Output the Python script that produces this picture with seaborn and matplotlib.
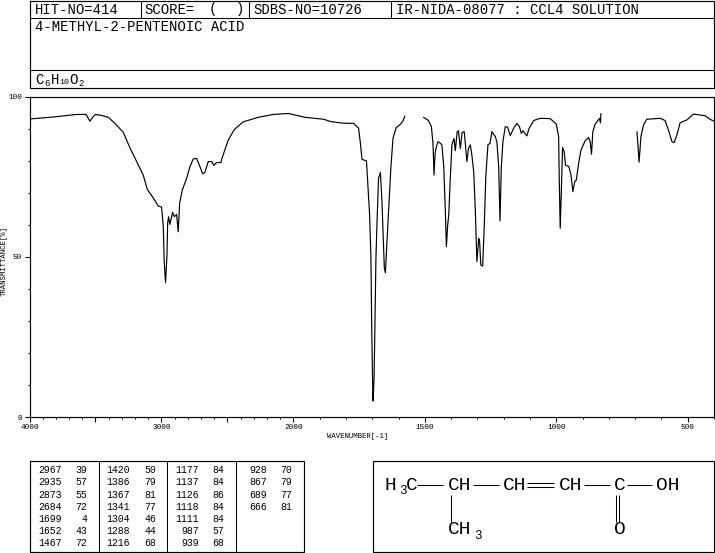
import numpy as np
import pandas as pd
import matplotlib
matplotlib.use('Agg')
import matplotlib.pyplot as plt
from matplotlib.patches import Rectangle
import seaborn as sns

seg1_wn = [3996, 3820, 3643, 3572, 3557, 3542, 3521, 3501, 3453, 3403, 3352, 3289, 3239, 3188, 3138, 3107,
           3062, 3024, 2999, 2986, 2979, 2969, 2958, 2953, 2946, 2936, 2915, 2903, 2885, 2873, 2862, 2842,
           2809, 2784, 2759, 2734, 2708, 2688, 2671, 2645, 2620, 2602, 2582, 2549, 2544, 2494, 2448, 2380,
           2266, 2153, 2039, 1955, 1885, 1859, 1815, 1771, 1752, 1745, 1739, 1722, 1717, 1710, 1705,
           1702, 1698, 1697, 1693, 1690, 1686, 1681, 1676, 1669, 1663, 1659, 1654, 1650, 1644, 1636, 1629,
           1621, 1609, 1593, 1583, 1576]
seg1_t = [93.0, 93.6, 94.4, 94.4, 93.4, 92.3, 93.5, 94.4, 94.1, 93.5, 91.6, 88.8, 84.0, 79.7, 75.5, 71.0,
          68.4, 65.8, 65.5, 59.4, 48.5, 41.9, 50.5, 60.4, 62.5, 60.1, 63.9, 62.5, 63.2, 57.8, 66.7, 70.8,
          74.5, 78.1, 80.5, 80.7, 78.1, 75.9, 76.3, 79.7, 79.7, 78.5, 79.4, 79.4, 80.4, 86.4, 89.7, 92.1,
          93.5, 94.4, 94.7, 93.5, 92.9, 92.2, 91.7, 91.6, 90.1, 85.4, 80.4, 79.9, 72.9, 63.0, 49.5,
          27.7, 7.9, 5.0, 12.1, 27.7, 49.5, 63.0, 74.5, 76.3, 67.2, 57.8, 46.4, 45.0, 54.7, 67.2, 78.1,
          87.0, 90.3, 91.3, 92.4, 93.9]

seg2_wn = [1505, 1486, 1475, 1469, 1465, 1461, 1456, 1450, 1441, 1435, 1428, 1422, 1418, 1413, 1409, 1404,
           1397, 1389, 1384, 1377, 1372, 1365, 1358, 1350, 1340, 1334, 1327, 1321, 1314, 1308, 1302, 1295,
           1292, 1287, 1280, 1274, 1268, 1260, 1252, 1245, 1232, 1226, 1219, 1214, 1209, 1203, 1194, 1185,
           1175, 1162, 1150, 1140, 1133, 1127, 1112, 1103, 1086, 1061, 1023, 1000, 991, 989, 985, 981,
           976, 970, 965, 952, 944, 937, 930, 924, 915, 906, 890, 877, 871, 866, 861, 852, 835, 832, 830]
seg2_t = [93.5, 92.5, 90.6, 85.4, 75.5, 82.3, 84.3, 85.9, 85.4, 84.9, 78.1, 64.6, 53.2, 59.9, 63.0, 72.9,
          84.9, 86.9, 83.1, 89.0, 89.3, 83.8, 88.8, 89.0, 79.7, 83.8, 84.9, 81.7, 76.5, 64.6, 48.5, 55.7,
          55.2, 47.4, 47.1, 59.4, 75.0, 84.9, 85.4, 89.0, 87.5, 85.9, 78.1, 61.2, 78.1, 85.9, 90.6, 90.4,
          87.8, 90.1, 91.6, 90.6, 88.5, 89.3, 87.7, 90.1, 92.5, 93.2, 93.1, 91.4, 87.5, 76.0, 58.9, 69.8,
          84.1, 82.8, 78.6, 78.1, 75.5, 70.3, 73.4, 73.9, 79.1, 83.3, 86.2, 87.2, 85.9, 82.0, 89.0, 91.4,
          93.2, 91.8, 94.7]

seg3_wn = [693, 688, 685, 678, 668, 656, 605, 586, 573, 560, 552, 541, 529, 503, 478, 459, 434, 415, 400]
seg3_t = [89.0, 83.3, 79.5, 87.5, 91.1, 92.9, 93.2, 92.5, 89.5, 85.9, 85.6, 88.0, 91.8, 92.7, 94.5, 94.3,
          94.0, 92.9, 92.3]

# peak table
peak_wn = [2967, 2935, 2873, 2684, 1699, 1652, 1467,
           1420, 1386, 1367, 1341, 1304, 1288, 1216,
           1177, 1137, 1126, 1118, 1111, 987, 939,
           928, 867, 689, 666]
peak_t = [39, 57, 55, 72, 4, 43, 72,
          50, 79, 81, 77, 46, 44, 68,
          84, 84, 86, 84, 84, 57, 68,
          70, 79, 77, 81]

x_major = [4000, 3500, 3000, 2500, 2000, 1500, 1000, 500]
x_labels = ['4000', '', '3000', '', '2000', '1500', '1000', '500']
y_major = [0, 50, 100]
y_labels = ['0', '50', '100']

W, H = 715, 553
sns.set_theme(style='ticks')
plt.rcParams['font.family'] = ['Liberation Mono', 'DejaVu Sans Mono']
fig = plt.figure(figsize=(W / 100, H / 100), dpi=100, facecolor='white')

# axis box in pixels
left, right, top, bottom = 29.5, 714.0, 96.5, 417.0
ax = fig.add_axes([left / W, 1 - bottom / H, (right - left) / W, (bottom - top) / H])

for wn, t in [(seg1_wn, seg1_t), (seg2_wn, seg2_t), (seg3_wn, seg3_t)]:
    df = pd.DataFrame({'wn': wn, 't': t})
    sns.lineplot(data=df, x='wn', y='t', ax=ax, sort=False, estimator=None, color='black', linewidth=0.85)


# the instrument changes scale at 2000 cm-1
def forward(v):
    return np.interp(v, [0, 400, 2000, 4000, 8000], [-263, 0, 420.8, 684.8, 1212.8])


def inverse(v):
    return np.interp(v, [-263, 0, 420.8, 684.8, 1212.8], [0, 400, 2000, 4000, 8000])


ax.set_xscale('function', functions=(forward, inverse))
ax.set_xlim(4000, 400)
ax.set_ylim(0, 100)
ax.set_xticks(x_major)
ax.set_xticklabels(x_labels)
ax.set_xticks(np.arange(400, 4000, 100), minor=True)
ax.set_yticks(y_major)
ax.set_yticklabels(y_labels)
ax.set_yticks(np.arange(0, 101, 10), minor=True)
ax.tick_params(axis='both', which='major', length=3.8, width=0.8, color='black', labelsize=5.6, pad=1.5, labelcolor='black')
ax.tick_params(axis='both', which='minor', length=1.6, width=0.8, color='black')
ax.set_xlabel('')
ax.set_ylabel('')
for s in ax.spines.values():
    s.set_visible(True)
    s.set_linewidth(0.85)
    s.set_color('black')

# everything around the plot is laid out in pixels on a full page overlay
pg = fig.add_axes([0, 0, 1, 1], zorder=5)
pg.set_xlim(0, W)
pg.set_ylim(H, 0)
pg.axis('off')
pg.patch.set_alpha(0)


def box(x0, y0, x1, y1):
    pg.add_patch(Rectangle((x0, y0), x1 - x0, y1 - y0, fill=False, ec='black', lw=0.85))


def line(xs, ys):
    pg.plot(xs, ys, color='black', lw=0.75, solid_capstyle='butt')


def txt(x, y, s, size=10, **kw):
    pg.text(x, y, s, fontsize=size, va='center', color='black', **kw)


pg.text(358, 437, 'WAVENUMBER[-1]', fontsize=5.2, ha='center', va='center', color='black')
pg.text(4.5, 261, 'TRANSMITTANCE[%]', fontsize=5.2, rotation=90, ha='center', va='center', color='black')

# header
box(29.5, 0.5, 714, 87.5)
line([29.5, 714], [17.5, 17.5])
line([29.5, 714], [69.5, 69.5])
line([140.5, 140.5], [0.5, 17.5])
line([248.5, 248.5], [0.5, 17.5])
line([390.5, 390.5], [0.5, 17.5])
txt(35, 9.5, 'HIT-NO=414')
txt(144, 9.5, 'SCORE=')
txt(209, 9.5, '(')
txt(236, 9.5, ')')
txt(253, 9.5, 'SDBS-NO=10726')
txt(396.5, 9.5, 'IR-NIDA-08077 : CCL4 SOLUTION')
txt(35, 27, '4-METHYL-2-PENTENOIC ACID')
txt(35, 79.5, 'C')
txt(44, 83, '6', size=6.5)
txt(50.5, 79.5, 'H')
txt(59, 83, '10', size=6)
txt(69.5, 79.5, 'O')
txt(78, 83, '2', size=6.5)

# peak table
box(29.5, 460.5, 303.5, 552)
for xd in [98.5, 166.5, 235.5]:
    line([xd, xd], [460.5, 552])
col_wn = [62, 130, 199, 267]
col_t = [87, 156, 224, 292]
row_y = [470, 482.3, 494.5, 506.7, 519, 531, 543.3]
for i, (a, b) in enumerate(zip(peak_wn, peak_t)):
    c, r = i // 7, i % 7
    txt(col_wn[c], row_y[r], str(a), size=7.1, ha='right')
    txt(col_t[c], row_y[r], str(b), size=7.1, ha='right')

# structure
box(372.5, 460.5, 714, 552)
fs = 14
txt(385, 485, 'H', size=fs)
txt(399.5, 491.5, '3', size=9)
txt(406, 485, 'C', size=fs)
line([417.3, 442.7], [485, 485])
txt(448, 485, 'CH', size=fs)
line([473.3, 499], [485, 485])
txt(503, 485, 'CH', size=fs)
line([527.3, 554], [483.3, 483.3])
line([527.3, 554], [487.3, 487.3])
txt(559, 485, 'CH', size=fs)
line([584, 610], [485, 485])
txt(614, 485, 'C', size=fs)
line([626.7, 651.7], [485, 485])
txt(656, 485, 'OH', size=fs)
line([451.3, 451.3], [495, 521.7])
txt(448, 529.5, 'CH', size=fs)
txt(474.5, 536, '3', size=9)
line([615.7, 615.7], [495, 521.7])
line([619.3, 619.3], [495, 521.7])
txt(614, 530, 'O', size=fs)

fig.savefig('out.png', dpi=100)
